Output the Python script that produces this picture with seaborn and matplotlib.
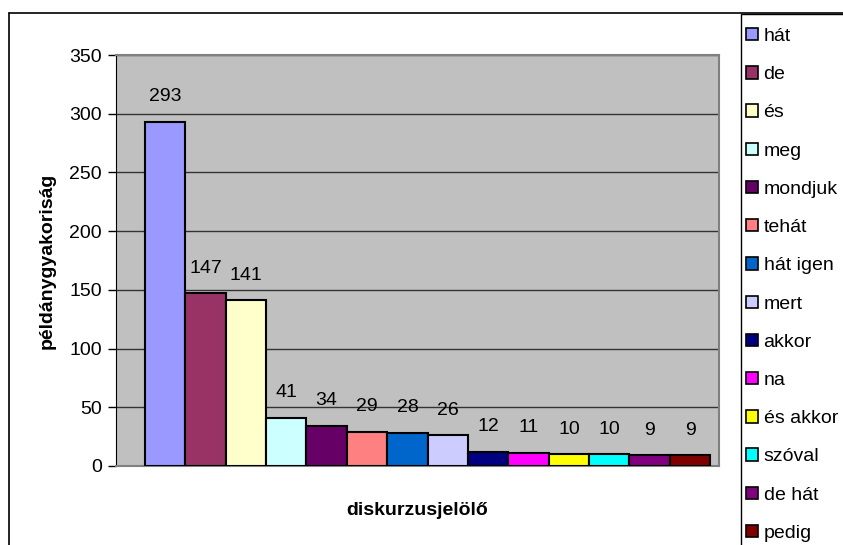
import matplotlib
matplotlib.use("Agg")
import matplotlib.pyplot as plt
from matplotlib.patches import Rectangle, Patch
from matplotlib.lines import Line2D
import seaborn as sns

kategoriak = ["hát", "de", "és", "meg", "mondjuk", "tehát", "hát igen", "mert",
              "akkor", "na", "és akkor", "szóval", "de hát", "pedig"]
ertekek = [293, 147, 141, 41, 34, 29, 28, 26, 12, 11, 10, 10, 9, 9]
szinek = ["#9999FF", "#993366", "#FFFFCC", "#CCFFFF", "#660066", "#FF8080", "#0066CC",
          "#CCCCFF", "#000080", "#FF00FF", "#FFFF00", "#00FFFF", "#800080", "#800000"]

sns.set_style("white")
plt.rcParams["font.family"] = ["Liberation Sans", "DejaVu Sans"]
plt.rcParams["text.color"] = "black"
plt.rcParams["axes.labelcolor"] = "black"
plt.rcParams["ytick.color"] = "black"

W, H = 843, 545
fig = plt.figure(figsize=(W / 100, H / 100), dpi=100)
ax = fig.add_axes([116 / W, 1 - 466 / H, (719 - 116) / W, (466 - 55) / H])
ax.set_facecolor("#C0C0C0")

sns.barplot(x=kategoriak, y=ertekek, hue=kategoriak, palette=szinek, width=1,
            saturation=1, edgecolor="black", linewidth=1.5, legend=False, ax=ax, zorder=3)

ax.set_ylim(0, 350)
ax.set_xlim(-1.217, 13.717)
ax.set_yticks(range(0, 351, 50))
ax.yaxis.grid(True, color="#333333", linewidth=1)
ax.set_axisbelow(True)
ax.set_xticks([])
ax.tick_params(axis="y", left=True, length=6, width=1, color="black",
               labelsize=14, pad=4, labelcolor="black")
for c in ax.containers:
    ax.bar_label(c, padding=12, fontsize=14, color="black")

for s in ["top", "right"]:
    ax.spines[s].set_color("#808080")
    ax.spines[s].set_linewidth(1.5)
ax.spines["left"].set_color("black")
ax.spines["bottom"].set_color("#808080")
ax.spines["bottom"].set_linewidth(1.5)

ax.set_ylabel("példánygyakoriság", fontsize=14, fontweight="bold", labelpad=10,
              color="black")
ax.set_xlabel("diskurzusjelölő", fontsize=14, fontweight="bold", labelpad=26,
              color="black")

# outer chart border
fig.add_artist(Line2D([9 / W, 9 / W], [0, 1 - 13 / H], color="black", lw=1.2,
                      transform=fig.transFigure))
fig.add_artist(Line2D([9 / W, 1], [1 - 13 / H, 1 - 13 / H], color="black", lw=1.2,
                      transform=fig.transFigure))

# legend box
fig.add_artist(Rectangle((741 / W, -0.05), 0.2, 1 - 14 / H + 0.05, transform=fig.transFigure,
                         facecolor="white", edgecolor="black", lw=1))
handles = [Patch(facecolor=c, edgecolor="black", lw=1.2) for c in szinek]
leg = fig.legend(handles, kategoriak, loc="upper left", bbox_to_anchor=(746 / W, 1 - 28 / H),
                 frameon=False, fontsize=14, handlelength=0.6, handleheight=0.6,
                 handletextpad=0.3, labelspacing=1.09, borderaxespad=0, borderpad=0)
for t in leg.get_texts():
    t.set_color("black")

fig.savefig("out.png", dpi=100)
